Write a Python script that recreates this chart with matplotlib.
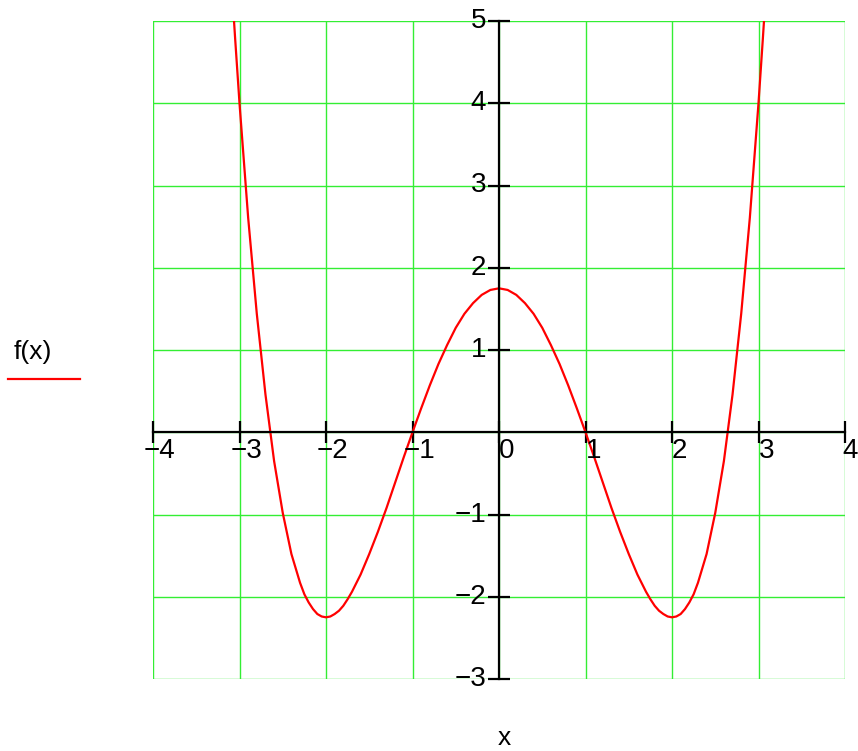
import numpy as np
import matplotlib.pyplot as plt
from matplotlib.lines import Line2D
from matplotlib.transforms import offset_copy

plt.rcParams['font.family'] = ['Liberation Sans', 'DejaVu Sans']

# points
xs = [-3.08, -3.05, -3.0, -2.9, -2.8, -2.7, -2.6, -2.5, -2.4, -2.3, -2.25, -2.2, -2.15, -2.1,
      -2.05, -2.0, -1.95, -1.9, -1.85, -1.8, -1.75, -1.7, -1.6, -1.5, -1.4, -1.3, -1.2, -1.1,
      -1.0, -0.9, -0.8, -0.7, -0.6, -0.5, -0.4, -0.3, -0.2, -0.1, 0.0, 0.1, 0.2, 0.3, 0.4,
      0.5, 0.6, 0.7, 0.8, 0.9, 1.0, 1.1, 1.2, 1.3, 1.4, 1.5, 1.6, 1.7, 1.75, 1.8, 1.85,
      1.9, 1.95, 2.0, 2.05, 2.1, 2.15, 2.2, 2.25, 2.3, 2.4, 2.5, 2.6, 2.7, 2.8, 2.9, 3.0,
      3.05, 3.08]
ys = [5.27, 4.78, 4.0, 2.61, 1.44, 0.46, -0.35, -0.98, -1.48, -1.83, -1.97, -2.07, -2.15, -2.21,
      -2.24, -2.25, -2.24, -2.21, -2.17, -2.11, -2.03, -1.94, -1.73, -1.48, -1.21, -0.92, -0.61, -0.30,
      0.0, 0.29, 0.57, 0.83, 1.06, 1.27, 1.44, 1.57, 1.67, 1.73, 1.75, 1.73, 1.67, 1.57, 1.44,
      1.27, 1.06, 0.83, 0.57, 0.29, 0.0, -0.30, -0.61, -0.92, -1.21, -1.48, -1.73, -1.94, -2.03, -2.11, -2.17,
      -2.21, -2.24, -2.25, -2.24, -2.21, -2.15, -2.07, -1.97, -1.83, -1.48, -0.98, -0.35, 0.46, 1.44, 2.61, 4.0,
      4.78, 5.27]

xticks = [-4, -3, -2, -1, 0, 1, 2, 3, 4]
yticks = [-3, -2, -1, 1, 2, 3, 4, 5]

fig = plt.figure(figsize=(8.58, 7.51), dpi=100)
ax = fig.add_axes([153/858, 1 - 679/751, 692/858, 658/751])
ax.set_xlim(-4, 4)
ax.set_ylim(-3, 5)

grn = '#33ee33'
for t in range(-4, 5):
    ax.axvline(t, color=grn, lw=1, zorder=0)
for t in range(-3, 6):
    ax.axhline(t, color=grn, lw=1, zorder=0)

ax.plot(xs, ys, color='red', lw=1.6, zorder=3, clip_on=True)

for s in ['top', 'right']:
    ax.spines[s].set_visible(False)
ax.spines['left'].set_position(('data', 0))
ax.spines['bottom'].set_position(('data', 0))
ax.spines['left'].set_linewidth(1.6)
ax.spines['bottom'].set_linewidth(1.6)
ax.spines['left'].set_zorder(4)
ax.spines['bottom'].set_zorder(4)
ax.set_xticks(xticks)
ax.set_yticks(yticks)
ax.tick_params(direction='inout', length=16, width=1.6, labelbottom=False, labelleft=False)

for t in xticks:
    s = str(t).replace('-', '\u2212')
    dx = -9 if t < 0 else (-3 if t == 4 else 0)
    tr = offset_copy(ax.transData, fig=fig, x=dx * 0.72, y=-6 * 0.72, units='points')
    ax.text(t, 0, s, transform=tr, ha='left', va='top', fontsize=20)

for t in yticks:
    s = str(t).replace('-', '\u2212')
    tr = offset_copy(ax.transData, fig=fig, x=-13 * 0.72, y=0, units='points')
    ax.text(0, t, s, transform=tr, ha='right', va='center', fontsize=20)

fig.text(14/858, 1 - 352/751, 'f(x)', fontsize=19, ha='left', va='center')
fig.add_artist(Line2D([8/858, 80/858], [1 - 379/751, 1 - 379/751],
                      color='red', lw=1.6, transform=fig.transFigure))
fig.text(504/858, 1 - 738/751, 'x', fontsize=19, ha='center', va='center')

fig.savefig('out.png', dpi=100)
